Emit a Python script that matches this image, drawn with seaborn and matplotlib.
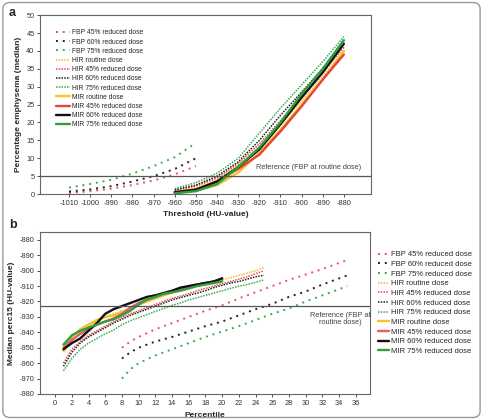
import numpy as np
import pandas as pd
import matplotlib
matplotlib.use("Agg")
import matplotlib.pyplot as plt
from matplotlib.patches import FancyBboxPatch
import seaborn as sns

sns.set_style("white")
plt.rcParams['font.family'] = ['Liberation Sans', 'DejaVu Sans']
plt.rcParams['axes.unicode_minus'] = False

labels = ["FBP 45% reduced dose", "FBP 60% reduced dose", "FBP 75% reduced dose",
          "HIR routine dose", "HIR 45% reduced dose", "HIR 60% reduced dose", "HIR 75% reduced dose",
          "MIR routine dose", "MIR 45% reduced dose", "MIR 60% reduced dose", "MIR 75% reduced dose"]
colors = ["#e8506a", "#222222", "#3cab4a",
          "#f2b632", "#e8484f", "#222222", "#3cab4a",
          "#f7c325", "#e8433a", "#111111", "#2e9e3e"]
colors_b = colors[:8] + ["#e0606e", "#111111", "#2e9e3e"]

# panel a: threshold vs percentage emphysema
thr_fbp = [-1010, -1000, -990, -980, -970, -960, -950]
thr_ir = [-960, -950, -940, -930, -920, -910, -900, -890, -880]
a_fbp45 = [0.3, 0.8, 1.5, 2.5, 3.8, 5.5, 7.8]
a_fbp60 = [0.7, 1.3, 2.2, 3.5, 5.0, 7.0, 10.0]
a_fbp75 = [1.8, 2.8, 4.0, 5.7, 7.8, 10.3, 14.3]
a_hir0 = [0.8, 2.0, 4.0, 8.0, 13.0, 19.5, 26.0, 33.0, 40.0]
a_hir45 = [1.0, 2.3, 4.5, 8.5, 14.0, 20.5, 27.0, 34.0, 41.0]
a_hir60 = [1.2, 2.5, 5.0, 9.0, 15.0, 22.0, 28.5, 35.0, 43.0]
a_hir75 = [1.5, 3.2, 5.8, 10.0, 17.0, 24.0, 30.5, 37.0, 44.0]
a_mir0 = [0.3, 1.0, 2.5, 6.0, 11.5, 18.0, 25.0, 32.0, 40.0]
a_mir45 = [0.5, 1.3, 3.5, 7.0, 11.0, 17.5, 24.5, 32.0, 39.0]
a_mir60 = [0.5, 1.2, 3.5, 7.5, 12.5, 19.5, 27.0, 34.0, 42.0]
a_mir75 = [0.2, 0.8, 2.8, 7.5, 13.0, 20.0, 28.0, 35.0, 43.0]
a_ref = 5

# panel b: percentile vs median perc15
p_fbp = [8, 9, 10, 12, 14, 16, 18, 20, 22, 24, 26, 28, 30, 32, 34, 35]
p_hir = list(range(1, 26))
p_mir = list(range(1, 21))
b_fbp45 = [-950, -946, -943, -938, -934, -930, -926, -922.5, -918, -914, -910, -906, -902.5, -899, -895, -893]
b_fbp60 = [-957, -953, -950, -946, -943, -939.5, -936, -933, -929, -925, -921.5, -917, -913.5, -909, -905, -903]
b_fbp75 = [-970, -964, -960, -955, -951, -947, -943, -939.5, -936, -932, -928, -924.5, -920, -916, -912, -910]
b_hir0 = [-953, -945, -940, -936, -933, -930, -928, -926, -924, -922, -920, -918, -916, -914.5, -913,
          -911.5, -910, -908.5, -907, -906, -904.5, -903, -901.5, -900, -898]
b_hir45 = [-960, -951, -946, -942, -939, -936, -933, -930.5, -928, -926, -924, -922, -920, -918, -916.5,
           -915, -913, -911.5, -910, -908.5, -907, -905.5, -904, -902, -900]
b_hir60 = [-962, -953, -947, -943, -940, -937, -934, -931.5, -929, -927, -925, -923, -921, -919, -917.5,
           -916, -914.5, -913, -911, -909.5, -908, -907, -905.5, -904, -903]
b_hir75 = [-965, -957, -951, -947, -944, -941, -938.5, -935, -932.5, -930.5, -928.5, -926.5, -924.5, -922.5,
           -921, -919, -917.5, -916, -914.5, -913, -911.5, -910, -909, -907.5, -906]
b_mir0 = [-952, -943, -938, -935, -932, -930, -929, -927, -925, -922, -920, -918, -916, -914, -912,
          -910.5, -909, -908, -907, -906]
b_mir45 = [-950, -945, -941, -938, -935, -933, -931, -928, -924, -921, -919, -917, -915, -914, -912,
           -910, -909, -908, -907, -905]
b_mir60 = [-951, -947, -944, -939, -934, -928, -925, -923, -921, -919, -917, -916, -914.5, -913, -911,
           -910, -909, -908, -907, -905]
b_mir75 = [-948, -942, -939, -937, -935, -933, -931.5, -929, -926, -922, -918.5, -917, -915, -914, -913,
           -911.5, -910, -909, -908, -907]
b_ref = -923

a_series = [(thr_fbp, a_fbp45), (thr_fbp, a_fbp60), (thr_fbp, a_fbp75),
            (thr_ir, a_hir0), (thr_ir, a_hir45), (thr_ir, a_hir60), (thr_ir, a_hir75),
            (thr_ir, a_mir0), (thr_ir, a_mir45), (thr_ir, a_mir60), (thr_ir, a_mir75)]
b_series = [(p_fbp, b_fbp45), (p_fbp, b_fbp60), (p_fbp, b_fbp75),
            (p_hir, b_hir0), (p_hir, b_hir45), (p_hir, b_hir60), (p_hir, b_hir75),
            (p_mir, b_mir0), (p_mir, b_mir45), (p_mir, b_mir60), (p_mir, b_mir75)]


def style(i):
    if i < 3:
        return dict(linestyle=(0, (1, 2.5)), linewidth=1.4)
    if i < 7:
        return dict(linestyle=(0, (1, 0.8)), linewidth=1.1)
    return dict(linestyle="-", linewidth=1.7)


fig = plt.figure(figsize=(4.83, 4.2), dpi=100)
fig.patches.append(FancyBboxPatch((0.006, 0.006), 0.988, 0.988, boxstyle="round,pad=0,rounding_size=0.015",
                                  transform=fig.transFigure, fill=False, edgecolor="#999999", linewidth=1))

ax1 = fig.add_axes([0.083, 0.538, 0.685, 0.426])
ax2 = fig.add_axes([0.083, 0.062, 0.683, 0.386])

for ax, series, cols in [(ax1, a_series, colors), (ax2, b_series, colors_b)]:
    for i, (xs, ys) in enumerate(series):
        df = pd.DataFrame({"x": xs, "y": ys})
        sns.lineplot(data=df, x="x", y="y", ax=ax, color=cols[i], label=labels[i], **style(i))
    for s in ax.spines.values():
        s.set_color("#666666")
        s.set_linewidth(0.8)
    ax.tick_params(axis="both", labelsize=5.3, colors="#333333", length=2.5, width=0.6,
                   direction="out", pad=1.5, left=True, bottom=True)

# panel a
ax1.axhline(a_ref, color="#555555", linewidth=0.9)
ax1.text(-872, 6.3, "Reference (FBP at routine dose)", fontsize=5.3, color="#444444", ha="right", va="bottom")
ax1.set_xlim(-1023.7, -867.2)
ax1.set_ylim(0, 50)
ax1.set_xticks(np.arange(-1010, -879, 10))
ax1.set_yticks(np.arange(0, 51, 5))
ax1.set_xlabel("Threshold (HU-value)", fontsize=6, fontweight="bold", labelpad=3)
ax1.set_ylabel("Percentage emphysema (median)", fontsize=6, fontweight="bold", labelpad=3)
ax1.legend(loc="upper left", bbox_to_anchor=(0.04, 0.935), frameon=False, fontsize=4.9,
           handlelength=2.0, handletextpad=0.3, labelspacing=0.32, borderaxespad=0)

# panel b
ax2.axhline(b_ref, color="#555555", linewidth=0.9)
ax2.text(34.2, -927, "Reference (FBP at\nroutine dose)", fontsize=5.3, color="#444444", ha="center", va="top",
         linespacing=1.0)
ax2.set_xlim(-1.8, 37.7)
ax2.set_ylim(-980, -874.8)
ax2.set_xticks(np.arange(0, 37, 2))
ax2.set_yticks(np.arange(-980, -879, 10))
ax2.set_xlabel("Percentile", fontsize=6, fontweight="bold", labelpad=4)
ax2.set_ylabel("Median perc15 (HU-value)", fontsize=6, fontweight="bold", labelpad=3)
ax2.legend(loc="upper left", bbox_to_anchor=(1.015, 0.9), frameon=False, fontsize=5.5,
           handlelength=1.4, handletextpad=0.25, labelspacing=0.3, borderaxespad=0)

fig.text(0.018, 0.97, "a", fontsize=9, fontweight="bold", va="center")
fig.text(0.018, 0.465, "b", fontsize=9, fontweight="bold", va="center")

fig.savefig("out.png", dpi=100)
